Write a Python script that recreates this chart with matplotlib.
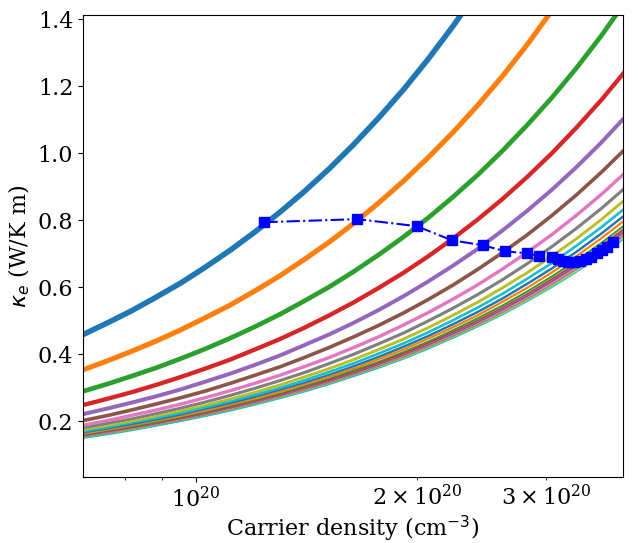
import matplotlib
matplotlib.use('Agg')
import matplotlib.pyplot as plt
import numpy as np

plt.rcParams['font.family'] = 'serif'
plt.rcParams['font.size'] = 16

# carrier density samples (1e20 cm^-3)
density = np.array([0.700, 0.756, 0.817, 0.883, 0.955, 1.031, 1.115, 1.204, 1.302, 1.406,
                    1.520, 1.642, 1.775, 1.918, 2.072, 2.239, 2.420, 2.615, 2.826, 3.054,
                    3.300, 3.566, 3.853]) * 1e20

# electronic thermal conductivity curves (W/K m), one per row
kappa_curves = [
    [0.457, 0.492, 0.529, 0.570, 0.613, 0.660, 0.711, 0.765, 0.824, 0.886, 0.954, 1.027,
     1.106, 1.190, 1.281, 1.379, 1.484, 1.597, 1.719, 1.851, 1.992, 2.144, 2.308],
    [0.352, 0.379, 0.408, 0.439, 0.473, 0.509, 0.547, 0.589, 0.634, 0.683, 0.735, 0.791,
     0.852, 0.917, 0.987, 1.062, 1.143, 1.230, 1.324, 1.426, 1.534, 1.652, 1.778],
    [0.288, 0.310, 0.334, 0.359, 0.387, 0.416, 0.448, 0.482, 0.519, 0.559, 0.601, 0.647,
     0.697, 0.750, 0.807, 0.869, 0.935, 1.007, 1.084, 1.166, 1.255, 1.351, 1.455],
    [0.247, 0.266, 0.286, 0.308, 0.332, 0.357, 0.384, 0.414, 0.445, 0.479, 0.516, 0.555,
     0.598, 0.643, 0.692, 0.745, 0.802, 0.863, 0.929, 1.000, 1.077, 1.159, 1.248],
    [0.220, 0.237, 0.255, 0.274, 0.295, 0.318, 0.342, 0.368, 0.396, 0.427, 0.459, 0.494,
     0.532, 0.573, 0.617, 0.664, 0.714, 0.769, 0.828, 0.891, 0.959, 1.032, 1.111],
    [0.201, 0.216, 0.233, 0.251, 0.270, 0.290, 0.313, 0.337, 0.362, 0.390, 0.420, 0.452,
     0.486, 0.523, 0.563, 0.606, 0.653, 0.703, 0.756, 0.814, 0.876, 0.943, 1.015],
    [0.187, 0.201, 0.217, 0.233, 0.251, 0.270, 0.291, 0.313, 0.337, 0.363, 0.390, 0.420,
     0.452, 0.487, 0.524, 0.564, 0.607, 0.654, 0.704, 0.757, 0.815, 0.877, 0.944],
    [0.178, 0.192, 0.206, 0.222, 0.239, 0.257, 0.277, 0.298, 0.321, 0.345, 0.372, 0.400,
     0.431, 0.463, 0.499, 0.537, 0.578, 0.622, 0.670, 0.721, 0.776, 0.835, 0.899],
    [0.171, 0.184, 0.198, 0.213, 0.230, 0.247, 0.266, 0.286, 0.308, 0.332, 0.357, 0.384,
     0.414, 0.445, 0.479, 0.516, 0.555, 0.598, 0.643, 0.693, 0.745, 0.802, 0.864],
    [0.166, 0.179, 0.192, 0.207, 0.223, 0.240, 0.258, 0.278, 0.299, 0.322, 0.347, 0.373,
     0.402, 0.432, 0.465, 0.501, 0.539, 0.580, 0.625, 0.672, 0.724, 0.779, 0.838],
    [0.162, 0.174, 0.188, 0.202, 0.217, 0.234, 0.252, 0.271, 0.292, 0.314, 0.338, 0.364,
     0.392, 0.422, 0.454, 0.489, 0.526, 0.566, 0.610, 0.656, 0.706, 0.760, 0.818],
    [0.159, 0.171, 0.184, 0.198, 0.213, 0.230, 0.247, 0.266, 0.287, 0.308, 0.332, 0.357,
     0.385, 0.414, 0.446, 0.480, 0.516, 0.556, 0.598, 0.644, 0.693, 0.746, 0.803],
    [0.156, 0.168, 0.181, 0.195, 0.209, 0.225, 0.243, 0.261, 0.281, 0.303, 0.326, 0.351,
     0.377, 0.406, 0.437, 0.471, 0.507, 0.545, 0.587, 0.632, 0.680, 0.732, 0.788],
    [0.154, 0.166, 0.178, 0.192, 0.207, 0.223, 0.240, 0.258, 0.278, 0.299, 0.322, 0.346,
     0.373, 0.401, 0.432, 0.465, 0.500, 0.538, 0.579, 0.624, 0.671, 0.723, 0.778],
    [0.153, 0.165, 0.177, 0.191, 0.205, 0.221, 0.238, 0.256, 0.276, 0.297, 0.319, 0.344,
     0.370, 0.398, 0.429, 0.462, 0.497, 0.535, 0.576, 0.620, 0.667, 0.718, 0.773],
    [0.152, 0.164, 0.176, 0.190, 0.204, 0.220, 0.236, 0.254, 0.274, 0.295, 0.317, 0.342,
     0.368, 0.396, 0.426, 0.459, 0.494, 0.531, 0.572, 0.616, 0.663, 0.713, 0.768],
    [0.151, 0.163, 0.175, 0.188, 0.203, 0.218, 0.235, 0.253, 0.272, 0.293, 0.315, 0.339,
     0.365, 0.393, 0.423, 0.456, 0.490, 0.528, 0.568, 0.612, 0.658, 0.709, 0.763],
    [0.150, 0.161, 0.174, 0.187, 0.201, 0.217, 0.233, 0.251, 0.270, 0.291, 0.313, 0.337,
     0.363, 0.391, 0.420, 0.453, 0.487, 0.524, 0.564, 0.607, 0.654, 0.704, 0.758],
    [0.149, 0.160, 0.173, 0.186, 0.200, 0.215, 0.232, 0.249, 0.269, 0.289, 0.311, 0.335,
     0.360, 0.388, 0.418, 0.450, 0.484, 0.521, 0.561, 0.603, 0.650, 0.699, 0.753],
    [0.148, 0.159, 0.171, 0.185, 0.199, 0.214, 0.230, 0.248, 0.267, 0.287, 0.309, 0.333,
     0.358, 0.385, 0.415, 0.447, 0.481, 0.517, 0.557, 0.599, 0.645, 0.694, 0.748],
]

# optimum points (one per curve)
opt_density = np.array([1.24, 1.66, 2.00, 2.23, 2.46, 2.64, 2.82, 2.93, 3.05, 3.11,
                        3.16, 3.21, 3.27, 3.34, 3.40, 3.45, 3.52, 3.57, 3.63, 3.70]) * 1e20
opt_kappa = [0.794, 0.803, 0.782, 0.740, 0.725, 0.707, 0.701, 0.693, 0.690, 0.684,
             0.678, 0.675, 0.675, 0.678, 0.684, 0.690, 0.701, 0.710, 0.720, 0.734]

fig = plt.figure(figsize=(6.38, 5.43), dpi=100)
ax = fig.add_axes([0.130, 0.1215, 0.847, 0.8505])

for i, kap in enumerate(kappa_curves):
    ax.plot(density, kap, color='C%d' % (i % 10), lw=4.0 * 0.92 ** i)

ax.plot(opt_density, opt_kappa, 'bs-.', ms=6.5, lw=1.5)

ax.set_xscale('log')
ax.set_xlim(7.02e19, 3.82e20)
ax.set_ylim(0.033, 1.412)
ax.set_xlabel('Carrier density (cm$^{-3}$)', labelpad=1)
ax.set_ylabel(r'$\kappa_e$ (W/K m)')

fig.savefig('out.png')
